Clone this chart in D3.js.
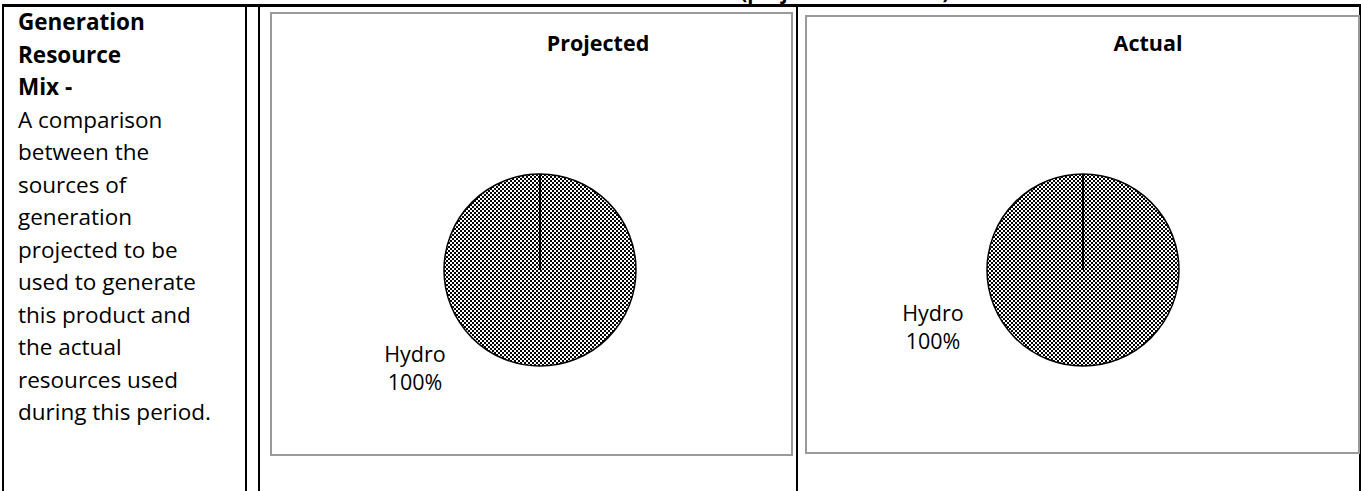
<!DOCTYPE html>
<html>
<head>
<meta charset="utf-8">
<script src="https://cdn.jsdelivr.net/npm/d3@7"></script>
<style>
  body { margin: 0; background: #fff; }
  svg { display: block; }
  text { font-family: "Open Sans", "Noto Sans", sans-serif; fill: #000; }
</style>
</head>
<body>
<svg id="page"></svg>
<script>
// data
var categories = ["Hydro"];
var projectedValues = [100];
var actualValues = [100];
var chartTitles = ["Projected", "Actual"];
var headingLines = ["Generation", "Resource", "Mix -"];
var bodyLines = ["A comparison", "between the", "sources of", "generation",
  "projected to be", "used to generate", "this product and", "the actual",
  "resources used", "during this period."];

var width = 1361,
  height = 491;

var svg = d3.select("#page")
  .attr("width", width)
  .attr("height", height);

// pattern fill used by excel ("50% dotted")
var defs = svg.append("defs");
var pat = defs.append("pattern")
  .attr("id", "dots")
  .attr("patternUnits", "userSpaceOnUse")
  .attr("width", 4)
  .attr("height", 4);
pat.append("rect").attr("width", 4).attr("height", 4).attr("fill", "#fff");
pat.append("rect").attr("x", 0).attr("y", 0).attr("width", 2).attr("height", 2).attr("fill", "#000");
pat.append("rect").attr("x", 2).attr("y", 2).attr("width", 2).attr("height", 2).attr("fill", "#000");

// heading of the page, only its descenders show above the table
svg.append("text")
  .attr("x", 845)
  .attr("y", -1)
  .attr("text-anchor", "middle")
  .style("font-size", "20px")
  .style("font-weight", "bold")
  .text("(projected vs. actual)");

// table rules
var rules = [
  [3, 5.5, 1361, 5.5, 3],
  [3, 4, 3, 491, 2],
  [246, 5, 246, 491, 2],
  [259, 5, 259, 491, 2],
  [797, 5, 797, 491, 2],
  [1360, 4, 1360, 491, 2]
];
svg.selectAll(".rule").data(rules)
  .enter().append("line")
  .attr("class", "rule")
  .attr("x1", function(d) { return d[0]; })
  .attr("y1", function(d) { return d[1]; })
  .attr("x2", function(d) { return d[2]; })
  .attr("y2", function(d) { return d[3]; })
  .attr("stroke", "#000")
  .attr("stroke-width", function(d) { return d[4]; });

// left column text
var lineY = d3.scaleLinear().domain([0, 12]).range([30, 420]);
var allLines = headingLines.concat(bodyLines);
svg.selectAll(".desc").data(allLines)
  .enter().append("text")
  .attr("class", "desc")
  .attr("x", 18)
  .attr("y", function(d, i) { return lineY(i); })
  .style("font-size", "22.5px")
  .style("font-weight", function(d, i) { return i < headingLines.length ? "bold" : "normal"; })
  .text(function(d) { return d; });

// the two chart boxes
var charts = [
  { title: chartTitles[0], values: projectedValues, box: [271, 13, 792, 455], cx: 540, cy: 270, lx: -125, ly: 92, tx: 598 },
  { title: chartTitles[1], values: actualValues, box: [806, 16, 1359, 453], cx: 1083, cy: 270, lx: -150, ly: 51, tx: 1148 }
];

var r = 96;
var pie = d3.pie().sort(null);
var arc = d3.arc().innerRadius(0).outerRadius(r);

charts.forEach(function(c) {
  var g = svg.append("g");

  g.append("rect")
    .attr("x", c.box[0])
    .attr("y", c.box[1])
    .attr("width", c.box[2] - c.box[0])
    .attr("height", c.box[3] - c.box[1])
    .attr("fill", "#fff")
    .attr("stroke", "#9a9a9a")
    .attr("stroke-width", 2);

  g.append("text")
    .attr("x", c.tx)
    .attr("y", 51)
    .attr("text-anchor", "middle")
    .style("font-size", "21.5px")
    .style("font-weight", "bold")
    .text(c.title);

  var slices = pie(c.values);
  var pg = g.append("g").attr("transform", "translate(" + c.cx + "," + c.cy + ")");

  pg.selectAll(".slice").data(slices)
    .enter().append("path")
    .attr("class", "slice")
    .attr("d", arc)
    .attr("fill", "url(#dots)")
    .attr("stroke", "#000")
    .attr("stroke-width", 1.5);

  // slice edge from centre
  pg.selectAll(".edge").data(slices)
    .enter().append("line")
    .attr("class", "edge")
    .attr("x1", 0).attr("y1", 0)
    .attr("x2", function(d) { return r * Math.sin(d.startAngle); })
    .attr("y2", function(d) { return -r * Math.cos(d.startAngle); })
    .attr("stroke", "#000")
    .attr("stroke-width", 2);

  var lab = pg.selectAll(".lab").data(slices)
    .enter().append("text")
    .attr("class", "lab")
    .attr("text-anchor", "middle")
    .style("font-size", "21.5px");
  lab.append("tspan")
    .attr("x", c.lx).attr("y", c.ly)
    .text(function(d, i) { return categories[i]; });
  lab.append("tspan")
    .attr("x", c.lx).attr("y", c.ly + 28)
    .text(function(d) { return d.value + "%"; });
});
</script>
</body>
</html>
